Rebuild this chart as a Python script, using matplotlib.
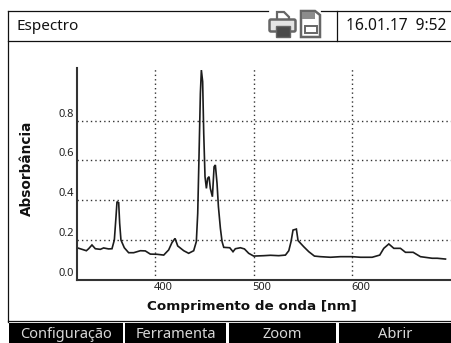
import matplotlib
matplotlib.use("Agg")
import matplotlib.pyplot as plt
from matplotlib.patches import Rectangle, Polygon, FancyBboxPatch
from matplotlib.transforms import ScaledTranslation

plt.rcParams['font.family'] = ['Noto Sans', 'DejaVu Sans']

# Spectrum
wavelength = [320.5, 325.6, 330, 332.3, 335.7, 339.1, 344.2, 347.5, 352.6, 356, 358.4, 360.1, 361.1,
              362.8, 363.8, 365.1, 368.5, 372.9, 378, 384.8, 389.8, 394.9, 401.7, 408.5, 413.5, 416.9,
              420, 422.7, 428.8, 433.8, 438.9, 441.6, 443, 444.3, 445.7, 446.7, 448, 449.1, 450.4,
              451.8, 453.1, 454.5, 455.8, 457.9, 459.6, 460.9, 462.6, 464, 466, 467.7, 469.4, 475.5,
              478.8, 481.2, 486.3, 490.4, 494.7, 499.8, 510, 516.8, 525.2, 532, 535.4, 537.7, 539.7,
              543.1, 544.8, 550.6, 555.7, 561.4, 567.5, 577.7, 587.8, 599.7, 608.1, 620, 627.7, 631.8,
              636.9, 642, 648.7, 653.8, 661.6, 669, 680.9, 686, 694.4]
absorbance = [.160, .152, .145, .155, .174, .155, .152, .159, .154, .155, .199, .317, .392,
              .387, .283, .199, .160, .135, .135, .145, .144, .128, .127, .123, .149, .186,
              .207, .169, .145, .132, .145, .191, .333, .619, .938, 1.055, .997, .736, .518,
              .459, .510, .518, .459, .417, .568, .577, .484, .367, .258, .191, .162, .160,
              .140, .155, .160, .154, .132, .118, .120, .122, .120, .123, .145, .191, .249,
              .254, .196, .165, .140, .118, .115, .112, .115, .115, .112, .112, .123, .157,
              .179, .157, .157, .137, .137, .115, .107, .107, .103]

x_ticks = [400, 500, 600]
y_ticks = [0.0, 0.2, 0.4, 0.6, 0.8]
y_labels = ["0.0", "0.2", "0.4", "0.6", "0.8"]
buttons = ["Configuração", "Ferramenta", "Zoom", "Abrir"]

W, H = 451, 343
fig = plt.figure(figsize=(W / 100, H / 100), dpi=100, facecolor='white')

# Screen frame, drawn in pixel coordinates
bg = fig.add_axes([0, 0, 1, 1])
bg.set_xlim(0, W)
bg.set_ylim(H, 0)
bg.axis('off')

ink = '#111111'
bg.plot([7.5, 7.5], [10.5, 322], color=ink, lw=0.9)
bg.plot([7.5, 268], [10.5, 10.5], color=ink, lw=0.9)
bg.plot([321, 451], [10.5, 10.5], color=ink, lw=0.9)
bg.plot([7.5, 451], [40.5, 40.5], color=ink, lw=0.9)
bg.plot([336.5, 336.5], [10.5, 40.5], color=ink, lw=0.9)
bg.plot([7.5, 451], [320.5, 320.5], color=ink, lw=0.9)

bg.text(16.5, 26, "Espectro", fontsize=11, color=ink, ha='left', va='center')
bg.text(346.5, 26, "16.01.17  9:52", fontsize=11.2, color=ink, ha='left', va='center')

# Printer icon
grey = '#666666'
bg.add_patch(Polygon([(277, 12), (284, 12), (289, 17), (289, 22), (277, 22)], fc='white', ec=grey, lw=1.6))
bg.add_patch(FancyBboxPatch((271, 21), 23, 9, boxstyle='round,pad=1.5', fc='#e4e4e4', ec=grey, lw=1.8))
bg.add_patch(Rectangle((275.5, 26), 14, 10.5, fc='#4a4a4a', ec=grey, lw=1))
# Memory card icon
bg.add_patch(Polygon([(301, 11), (315, 11), (320, 15), (320, 37), (301, 37)], fc='white', ec=grey, lw=1.8))
bg.add_patch(Rectangle((302, 12), 13, 7, fc='#8c8c8c', ec='none'))
bg.add_patch(Rectangle((304.5, 25.5), 12, 7.5, fc='white', ec=grey, lw=1.4))

# Soft keys
edges = [(9, 122.5), (125, 226), (229, 336), (339, 451)]
for (x0, x1), name in zip(edges, buttons):
    bg.add_patch(Rectangle((x0, 323), x1 - x0, 20, fc='black', ec='none'))
    bg.text((x0 + x1) / 2, 334, name, color='#d8d8d8', fontsize=10.5, ha='center', va='center')

# Chart
ax = fig.add_axes([76.5 / W, (H - 279.5) / H, 374.5 / W, 211.5 / H])
ax.patch.set_alpha(0)
ax.plot(wavelength, absorbance, color='#1c1c1c', lw=1.2, solid_joinstyle='miter')
ax.set_xlim(320, 700)
ax.set_ylim(0, 1.0655)
ax.set_xticks(x_ticks)
ax.set_yticks(y_ticks)
ax.set_yticklabels(y_labels)
ax.grid(True, color='#333333', lw=1.0, linestyle=(0, (1, 2.2)))
ax.set_axisbelow(True)
ax.tick_params(length=0, labelsize=8, labelcolor='#222222', pad=2)
for side in ['top', 'right']:
    ax.spines[side].set_visible(False)
for side in ['left', 'bottom']:
    ax.spines[side].set_linewidth(1.5)
    ax.spines[side].set_color('#333333')

# Tick labels sit beside the grid lines, not on them
for lab in ax.get_xticklabels():
    lab.set_transform(lab.get_transform() + ScaledTranslation(0.08, 0, fig.dpi_scale_trans))
for lab in ax.get_yticklabels():
    lab.set_transform(lab.get_transform() + ScaledTranslation(0, 0.08, fig.dpi_scale_trans))

bg.text(252, 306.5, "Comprimento de onda [nm]", fontsize=9.7, fontweight='bold', family='DejaVu Sans',
        color=ink, ha='center', va='center')
bg.text(27, 168.5, "Absorbância", fontsize=9.8, fontweight='bold', family='DejaVu Sans',
        color=ink, rotation=90, ha='center', va='center')

fig.savefig("out.png", dpi=100)
